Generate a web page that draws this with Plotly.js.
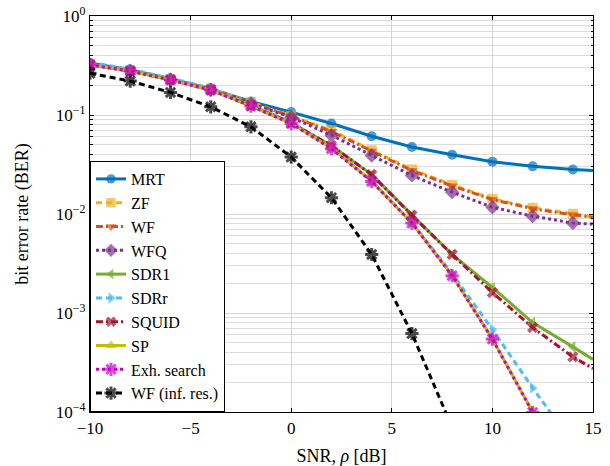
<!DOCTYPE html>
<html>
<head>
<meta charset="utf-8">
<script src="https://cdn.plot.ly/plotly-3.0.1.min.js"></script>
<style>html,body{margin:0;padding:0;background:#fff;}#chart{width:610px;height:466px;}</style>
</head>
<body>
<div id="chart"></div>
<script>
// ---- data ----
const snr = [-10, -8, -6, -4, -2, 0, 2, 4, 6, 8, 10, 12, 14, 15];

const berMRT   = [0.335, 0.285, 0.232, 0.183, 0.137, 0.107, 0.082, 0.061, 0.0475, 0.0397, 0.0338, 0.0303, 0.0282, 0.0275];
const berZF    = [0.33, 0.285, 0.232, 0.185, 0.135, 0.098, 0.070, 0.044, 0.0282, 0.0197, 0.01425, 0.01155, 0.01005, 0.0094];
const berWF    = [0.33, 0.283, 0.230, 0.183, 0.133, 0.097, 0.068, 0.043, 0.0275, 0.0192, 0.0140, 0.0113, 0.0098, 0.0093];
const berWFQ   = [0.325, 0.280, 0.228, 0.180, 0.130, 0.095, 0.0624, 0.039, 0.0245, 0.0166, 0.0117, 0.0095, 0.0081, 0.0079];
const berSDR1  = [0.325, 0.280, 0.228, 0.180, 0.125, 0.084, 0.049, 0.0250, 0.0098, 0.0039, 0.00181, 0.00080, 0.000455, 0.00034];
const berSDRr  = [0.340, 0.290, 0.235, 0.187, 0.128, 0.084, 0.047, 0.0215, 0.0082, 0.0025, 0.00068, 0.000175, 0.000048];
const berSQUID = [0.320, 0.278, 0.226, 0.179, 0.124, 0.083, 0.049, 0.0250, 0.0097, 0.0039, 0.00161, 0.000714, 0.00036, 0.000275];
const berSP    = [0.320, 0.278, 0.226, 0.179, 0.123, 0.082, 0.0465, 0.0215, 0.0081, 0.0024, 0.00055, 0.000100];
const berExh   = [0.320, 0.278, 0.226, 0.179, 0.123, 0.082, 0.0457, 0.0213, 0.0081, 0.00238, 0.000545, 0.000099];
const berWFinf = [0.264, 0.220, 0.169, 0.121, 0.076, 0.0376, 0.0146, 0.0039, 0.00062, 0.00007];

const seriesNames = ["MRT", "ZF", "WF", "WFQ", "SDR1", "SDRr", "SQUID", "SP", "Exh. search", "WF (inf. res.)"];
const yTickVals = [1e-4, 1e-3, 1e-2, 1e-1, 1];
const yTickText = ["10<sup>−4</sup>", "10<sup>−3</sup>", "10<sup>−2</sup>", "10<sup>−1</sup>", "10<sup>0</sup>"];

// ---- styles ----
const DASH = "6px,4px", DOT = "3px,3px", DASHDOT = "7px,3px,2px,3px";
const styles = [
  {color: "#0072BD", dash: "solid", symbol: "circle",         size: 10},
  {color: "#EDB120", dash: DASH,    symbol: "square",         size: 10},
  {color: "#D95319", dash: DASHDOT, symbol: "triangle-down",  size: 10},
  {color: "#7E2F8E", dash: DOT,     symbol: "diamond",        size: 11},
  {color: "#77AC30", dash: "solid", symbol: "triangle-left",  size: 10},
  {color: "#4DBEEE", dash: DASH,    symbol: "triangle-right", size: 10},
  {color: "#A2142F", dash: DASHDOT, symbol: "x",              size: 10},
  {color: "#BFBF00", dash: "solid", symbol: "triangle-up",    size: 10},
  {color: "#C800C8", dash: DOT,     symbol: "asterisk",       size: 11},
  {color: "#000000", dash: DASH,    symbol: "asterisk",       size: 11}
];
const seriesData = [berMRT, berZF, berWF, berWFQ, berSDR1, berSDRr, berSQUID, berSP, berExh, berWFinf];

const traces = seriesData.map((ys, i) => {
  const st = styles[i];
  const xs = snr.slice(0, ys.length);
  const isAst = st.symbol === "asterisk";
  return {
    x: xs, y: ys, name: seriesNames[i], type: "scatter", mode: "lines+markers",
    line: {color: st.color, width: 3, dash: st.dash},
    marker: {
      symbol: st.symbol,
      size: xs.map(v => (v % 2 === 0 ? st.size : 0)),
      color: st.color,
      line: isAst ? {color: st.color, width: 3} : {width: 0}
    }
  };
});

const fam = "Liberation Serif";
const layout = {
  width: 610, height: 466,
  margin: {l: 90, r: 17, t: 16, b: 54},
  paper_bgcolor: "#fff", plot_bgcolor: "#fff",
  font: {family: fam, size: 17, color: "#000"},
  showlegend: true,
  legend: {
    x: 0, y: 0, xanchor: "left", yanchor: "bottom",
    bgcolor: "#fff", bordercolor: "#000", borderwidth: 1,
    font: {family: fam, size: 16}, tracegroupgap: 0, itemwidth: 30
  },
  xaxis: {
    range: [-10, 15], dtick: 5, tick0: 0,
    showgrid: true, gridcolor: "#d4d4d4", gridwidth: 1,
    zeroline: false, showline: true, linecolor: "#000", linewidth: 1.2, mirror: "ticks",
    ticks: "inside", ticklen: 4, tickcolor: "#000",
    title: {text: "SNR, <i>ρ</i> [dB]", font: {family: fam, size: 18}, standoff: 16},
    tickfont: {family: fam, size: 17}
  },
  yaxis: {
    type: "log", range: [-4, 0],
    tickmode: "array", tickvals: yTickVals, ticktext: yTickText,
    showgrid: true, gridcolor: "#d4d4d4", gridwidth: 1,
    zeroline: false, showline: true, linecolor: "#000", linewidth: 1.2, mirror: "ticks",
    ticks: "inside", ticklen: 4, tickcolor: "#000",
    minor: {dtick: "D1", showgrid: true, gridcolor: "#dcdcdc", gridwidth: 1, ticks: "inside", ticklen: 2.5, tickcolor: "#000"},
    title: {text: "bit error rate (BER)", font: {family: fam, size: 18}, standoff: 22},
    tickfont: {family: fam, size: 17}
  }
};

Plotly.newPlot("chart", traces, layout, {staticPlot: true, displayModeBar: false});
</script>
</body>
</html>
